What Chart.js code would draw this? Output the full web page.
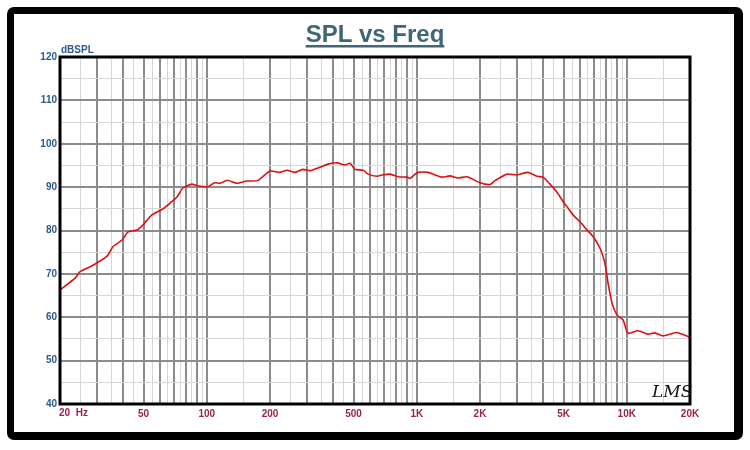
<!DOCTYPE html>
<html>
<head>
<meta charset="utf-8">
<script src="https://cdn.jsdelivr.net/npm/chart.js@4"></script>
<style>
  body { margin: 0; background: #fff; }
  #wrap { width: 750px; height: 450px; }
</style>
</head>
<body>
<div id="wrap"><canvas id="splChart" width="750" height="450"></canvas></div>
<script>
// dados
const freqHz = [20, 23.6, 24.9, 28.7, 33.5, 35.8, 39.5, 42.2, 46.5, 49.7,
  54.8, 61.9, 66.8, 72.1, 77, 85, 89.8, 101, 109, 116,
  125, 139, 155, 175, 200, 223, 241, 263, 287, 310,
  346, 378, 417, 455, 481, 508, 555, 586, 647, 683,
  746, 814, 898, 928, 1013, 1130, 1318, 1439, 1572, 1734,
  2000, 2232, 2356, 2690, 3000, 3386, 3734, 3990, 4308, 4652,
  4970, 5190, 5546, 5988, 6468, 6908, 7456, 7874, 8148, 8516,
  8984, 9598, 10140, 11304, 12620, 13616, 14870, 17332, 20000];
const splDb = [66.3, 69, 70.5, 72, 74.1, 76.3, 77.8, 79.7, 80.1, 81.3,
  83.6, 85, 86.3, 87.7, 89.8, 90.7, 90.3, 90.1, 91, 90.9,
  91.6, 90.9, 91.4, 91.5, 93.7, 93.4, 93.9, 93.4, 94.1, 93.8,
  94.6, 95.3, 95.6, 95.1, 95.5, 94.1, 93.9, 93.0, 92.5, 92.8,
  93.0, 92.4, 92.3, 92.0, 93.4, 93.4, 92.3, 92.6, 92.1, 92.4,
  91.0, 90.6, 91.5, 93.0, 92.8, 93.4, 92.5, 92.3, 90.7, 88.8,
  86.7, 85.5, 83.6, 82, 80.1, 78.6, 75.9, 72.4, 67.8, 63.2,
  60.5, 59.4, 56.3, 56.9, 56.1, 56.4, 55.7, 56.5, 55.4];
// o rotulo de 20 Hz fica alinhado a esquerda, desenhado no plugin
const xTickLabels = {50: '50', 100: '100', 200: '200', 500: '500',
  1000: '1K', 2000: '2K', 5000: '5K', 10000: '10K', 20000: '20K'};
const yTicks = [40, 50, 60, 70, 80, 90, 100, 110, 120];

// linhas de grade do eixo x: 20, 25, 30 ... 20000
const xGrid = [];
[10, 100, 1000, 10000].forEach(d => {
  for (let m = 1; m < 10; m += 0.5) {
    const v = Math.round(m * d);
    if (v >= 20 && v <= 20000) xGrid.push(v);
  }
});
const yGrid = [];
for (let v = 40; v <= 120; v += 5) yGrid.push(v);

const isMajorX = v => {
  const d = Math.pow(10, Math.floor(Math.log10(v) + 1e-9));
  return Math.abs(v / d - Math.round(v / d)) < 1e-6;
};

const fonteEixo = '"Liberation Sans Narrow", "Liberation Sans", Arial, sans-serif';

const molduraPlugin = {
  id: 'moldura',
  beforeDraw(chart) {
    const c = chart.ctx;
    c.save();
    c.fillStyle = '#fff';
    c.fillRect(0, 0, chart.width, chart.height);
    c.fillStyle = '#000';
    c.beginPath();
    c.roundRect(7, 7, 736, 433, 7);
    c.fill();
    c.fillStyle = '#fff';
    c.fillRect(14, 14, 720, 418);
    c.restore();
  },
  afterDraw(chart) {
    const c = chart.ctx;
    const a = chart.chartArea;
    c.save();
    // borda da area do grafico
    c.strokeStyle = '#000';
    c.lineWidth = 3;
    c.strokeRect(a.left, a.top, a.right - a.left, a.bottom - a.top);
    // titulo sublinhado
    c.font = 'bold 24px "Liberation Sans", Arial, sans-serif';
    c.fillStyle = '#3e6678';
    c.textAlign = 'center';
    c.textBaseline = 'alphabetic';
    const t = 'SPL vs Freq';
    c.fillText(t, 375, 42);
    const w = c.measureText(t).width;
    c.fillRect(375 - w / 2, 45, w, 2.5);
    // unidade do eixo y
    c.font = 'bold 10px ' + fonteEixo;
    c.fillStyle = '#2a5a8c';
    c.textAlign = 'left';
    c.fillText('dBSPL', a.left + 1, a.top - 4);
    // rotulo 20 Hz
    c.fillStyle = '#9a2050';
    c.textBaseline = 'top';
    c.fillText('20  Hz', a.left - 1, a.bottom + 4);
    // assinatura
    c.textBaseline = 'alphabetic';
    c.font = 'italic 17px "DejaVu Serif", serif';
    c.fillStyle = '#111';
    c.fillText('LMS', 652, 397);
    c.restore();
  }
};

const ctx = document.getElementById('splChart');
const grafico = new Chart(ctx, {
  type: 'line',
  data: {
    datasets: [{
      data: freqHz.map((f, i) => ({x: f, y: splDb[i]})),
      borderColor: '#e01010',
      borderWidth: 1.6,
      pointRadius: 0,
      tension: 0.2,
      fill: false
    }]
  },
  options: {
    responsive: false,
    animation: false,
    layout: {padding: {left: 20, right: 60, top: 57, bottom: 22}},
    plugins: {legend: {display: false}, tooltip: {enabled: false}},
    scales: {
      x: {
        type: 'logarithmic',
        min: 20, max: 20000,
        afterBuildTicks: s => { s.ticks = xGrid.map(v => ({value: v})); },
        afterFit: s => { s.height = 24; },
        border: {display: false},
        grid: {
          drawTicks: false,
          color: c => isMajorX(c.tick.value) ? '#8c8c8c' : '#d6d6d6',
          lineWidth: c => isMajorX(c.tick.value) ? 2 : 1
        },
        ticks: {
          autoSkip: false, maxRotation: 0, padding: 4,
          color: '#9a2050',
          font: {family: fonteEixo, size: 10, weight: 'bold'},
          callback: v => xTickLabels[v] || ''
        }
      },
      y: {
        min: 40, max: 120,
        afterBuildTicks: s => { s.ticks = yGrid.map(v => ({value: v})); },
        afterFit: s => { s.width = 40; },
        border: {display: false},
        grid: {
          drawTicks: false,
          color: c => c.tick.value % 10 === 0 ? '#8c8c8c' : '#d6d6d6',
          lineWidth: c => c.tick.value % 10 === 0 ? 2 : 1
        },
        ticks: {
          padding: 3,
          color: '#2a5a8c',
          font: {family: fonteEixo, size: 10, weight: 'bold'},
          callback: v => yTicks.includes(v) ? String(v) : ''
        }
      }
    }
  },
  plugins: [molduraPlugin]
});
</script>
</body>
</html>
